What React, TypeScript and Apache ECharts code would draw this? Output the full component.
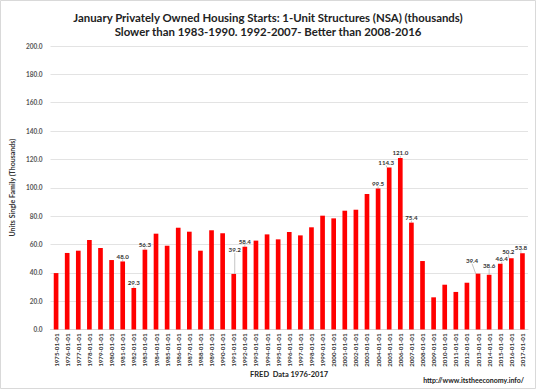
import React, { useEffect, useRef } from "react";
import * as echarts from "echarts";

const years: number[] = [];
for (let y = 1975; y <= 2017; y++) years.push(y);
const categories = years.map((y) => `${y}-01-01`);

const values = [
  39.8, 54.0, 55.6, 63.1, 57.5, 49.0, 48.0, 29.3, 56.3, 67.6,
  59.1, 71.8, 69.0, 55.6, 70.0, 67.9, 39.2, 58.4, 62.7, 67.1,
  63.6, 68.8, 66.4, 72.1, 80.3, 78.4, 83.8, 84.5, 95.6, 99.5,
  114.3, 121.0, 75.4, 48.3, 22.7, 31.6, 26.5, 33.0, 39.4, 38.6,
  46.4, 50.2, 53.8,
];

const labeledYears = [1981, 1982, 1983, 1991, 1992, 2004, 2005, 2006, 2007, 2013, 2014, 2015, 2016, 2017];
const movedLabels: Record<number, [number, number]> = {
  1991: [1, -19],
  2005: [-3, 0],
  2013: [-6, -8],
  2014: [0, -4],
  2015: [1.5, 0],
  2016: [-3, -2],
  2017: [-1.5, -1],
};

const yTicks = { min: 0, max: 200, interval: 20 };

export default function App() {
  const ref = useRef<HTMLDivElement>(null);
  useEffect(() => {
    if (!ref.current) return;
    const chart = echarts.init(ref.current, null, { renderer: "svg" });
    const data = values.map((v, i) => ({
      value: v,
      label: { show: labeledYears.includes(years[i]) },
    }));
    chart.setOption({
      animation: false,
      backgroundColor: "#fff",
      textStyle: { fontFamily: "Lato" },
      title: {
        text: "January Privately Owned Housing Starts: 1-Unit Structures (NSA) (thousands)\nSlower than 1983-1990. 1992-2007- Better than 2008-2016",
        left: "center",
        top: 5,
        textStyle: { fontSize: 11.4, fontWeight: "bold", color: "#222", lineHeight: 14.5, fontFamily: "Lato" },
      },
      grid: { left: 44, right: 8, top: 46, bottom: 59.5 },
      xAxis: {
        type: "category",
        data: categories,
        axisTick: { show: false },
        axisLine: { show: true, lineStyle: { color: "#d9d9d9" } },
        axisLabel: { rotate: 90, fontSize: 6.2, color: "#333", interval: 0, margin: 4, fontWeight: "bold" },
      },
      yAxis: {
        type: "value",
        min: yTicks.min,
        max: yTicks.max,
        interval: yTicks.interval,
        name: "Units Single Family (Thousands)",
        nameLocation: "middle",
        nameGap: 30,
        nameTextStyle: { fontSize: 7, fontWeight: "bold", color: "#333" },
        axisLine: { show: false },
        axisTick: { show: false },
        splitLine: { lineStyle: { color: "#e3e3e3" } },
        axisLabel: { fontSize: 6.5, color: "#555", fontWeight: "bold", margin: 8, formatter: (v: number) => v.toFixed(1) },
      },
      series: [
        {
          type: "bar",
          data,
          barWidth: "42%",
          itemStyle: { color: "#ff0000" },
          label: {
            show: false,
            position: "top",
            distance: 2,
            fontSize: 6.2,
            fontWeight: "bold",
            color: "#333",
            formatter: (p: any) => Number(p.value).toFixed(1),
          },
          labelLine: { show: true, lineStyle: { color: "#aaa", width: 0.7 } },
          labelLayout: (p: any) => {
            const m = movedLabels[years[p.dataIndex]];
            if (m) return { dx: m[0], dy: m[1] };
            return {};
          },
        },
      ],
      graphic: [
        {
          type: "rect",
          shape: { x: 0.5, y: 0.5, width: 535, height: 388 },
          style: { fill: "none", stroke: "#d9d9d9", lineWidth: 1 },
          silent: true,
        },
        {
          type: "text",
          left: 250,
          top: 370,
          style: { text: "FRED  Data 1976-2017", fontSize: 7.5, fontWeight: "bold", fill: "#222", fontFamily: "Lato" },
        },
        {
          type: "text",
          right: 12,
          top: 376,
          style: { text: "http://www.itstheeconomy.info/", fontSize: 7, fontWeight: "bold", fill: "#222", fontFamily: "Lato" },
        },
      ],
    });
    return () => chart.dispose();
  }, []);
  return <div ref={ref} style={{ position: "absolute", left: 0, top: 0, width: 536, height: 389 }} />;
}
